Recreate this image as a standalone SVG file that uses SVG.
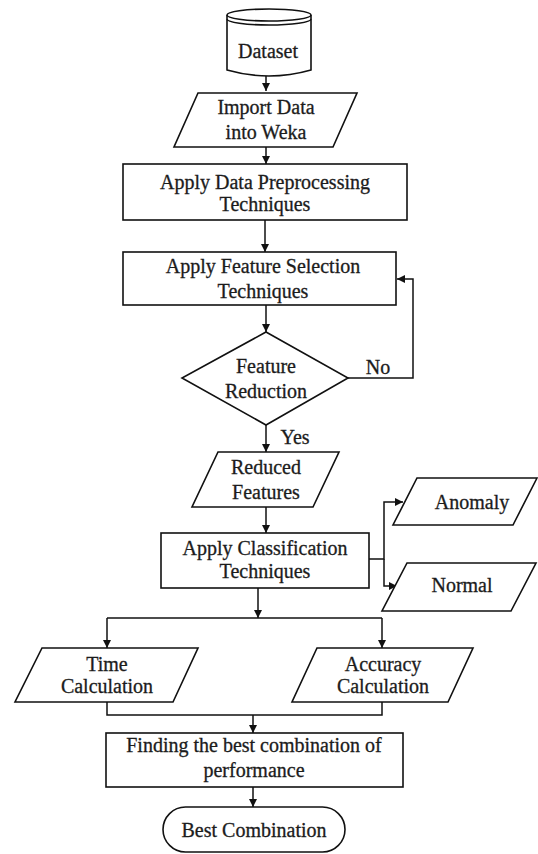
<svg xmlns="http://www.w3.org/2000/svg" width="538" height="854" viewBox="0 0 538 854">
  <defs>
    <marker id="arrow" viewBox="0 0 10 10" refX="10" refY="5" markerWidth="8" markerHeight="8" markerUnits="userSpaceOnUse" orient="auto">
      <path d="M0,0 L10,5 L0,10 z" fill="#111"/>
    </marker>
    <style>
      .shape { fill: #fff; stroke: #111; stroke-width: 1.6; }
      .line { fill: none; stroke: #111; stroke-width: 1.5; }
      .arr { marker-end: url(#arrow); }
      .lbl { font-size: 20px; fill: #1c1c1c; stroke: #1c1c1c; stroke-width: 0.3; text-anchor: middle; }
    </style>
  </defs>
  <rect width="538" height="854" fill="#fff"/>

  <g font-family="'Liberation Serif', 'DejaVu Serif', serif">
  <!-- connectors -->
  <g id="connectors">
    <path class="line arr" d="M266,76 V91"/>
    <path class="line arr" d="M266,147 V164"/>
    <path class="line arr" d="M265,220 V252"/>
    <path class="line arr" d="M266,305 V332"/>
    <path class="line arr" d="M348,378 H413 V279 H397"/>
    <path class="line arr" d="M266,425 V452"/>
    <path class="line arr" d="M266,507 V533"/>
    <path class="line arr" d="M369,559 H384 V502 H403"/>
    <path class="line arr" d="M384,559 V586 H397"/>
    <path class="line arr" d="M258,588 V618"/>
    <path class="line" d="M107,618 H382"/>
    <path class="line arr" d="M107,618 V648"/>
    <path class="line arr" d="M382,618 V648"/>
    <path class="line" d="M107,702 V715 H382 V702"/>
    <path class="line arr" d="M253,715 V733"/>
    <path class="line arr" d="M253,787 V807"/>
    <text class="lbl" x="378" y="374">No</text>
    <text class="lbl" x="295" y="444">Yes</text>
  </g>

  <g id="dataset">
    <path class="shape" d="M227,15 A42,6 0 0 1 311,15 V70 Q269,82 227,70 Z"/>
    <path class="line" d="M227,15 A42,6 0 0 0 311,15"/>
    <path class="line" d="M227,19 A42,6 0 0 0 311,19"/>
    <text class="lbl" x="268" y="58">Dataset</text>
  </g>

  <g id="import">
    <polygon class="shape" points="198,93 357,93 333,147 174,147"/>
    <text class="lbl" x="266" y="114">Import Data</text>
    <text class="lbl" x="266" y="139">into Weka</text>
  </g>

  <g id="preprocess">
    <rect class="shape" x="123" y="164" width="284" height="56"/>
    <text class="lbl" x="265" y="189">Apply Data Preprocessing</text>
    <text class="lbl" x="265" y="211">Techniques</text>
  </g>

  <g id="featsel">
    <rect class="shape" x="123" y="252" width="273" height="53"/>
    <text class="lbl" x="263" y="273">Apply Feature Selection</text>
    <text class="lbl" x="263" y="298">Techniques</text>
  </g>

  <g id="decision">
    <polygon class="shape" points="266,332 348,378 266,425 182,378"/>
    <text class="lbl" x="266" y="373">Feature</text>
    <text class="lbl" x="266" y="398">Reduction</text>
  </g>

  <g id="reduced">
    <polygon class="shape" points="218,452 339,452 313,507 192,507"/>
    <text class="lbl" x="266" y="474">Reduced</text>
    <text class="lbl" x="266" y="499">Features</text>
  </g>

  <g id="classify">
    <rect class="shape" x="161" y="533" width="208" height="55"/>
    <text class="lbl" x="265" y="555">Apply Classification</text>
    <text class="lbl" x="265" y="578">Techniques</text>
  </g>

  <g id="anomaly">
    <polygon class="shape" points="417,478 537,478 513,525 393,525"/>
    <text class="lbl" x="472" y="509">Anomaly</text>
  </g>

  <g id="normal">
    <polygon class="shape" points="407,563 536,563 511,611 382,611"/>
    <text class="lbl" x="462" y="592">Normal</text>
  </g>

  <g id="time">
    <polygon class="shape" points="42,648 198,648 173,702 15,702"/>
    <text class="lbl" x="107" y="671">Time</text>
    <text class="lbl" x="107" y="693">Calculation</text>
  </g>

  <g id="accuracy">
    <polygon class="shape" points="317,648 473,648 448,702 292,702"/>
    <text class="lbl" x="383" y="671">Accuracy</text>
    <text class="lbl" x="383" y="693">Calculation</text>
  </g>

  <g id="finding">
    <rect class="shape" x="106" y="733" width="297" height="54"/>
    <text class="lbl" x="254" y="752">Finding the best combination of</text>
    <text class="lbl" x="254" y="777">performance</text>
  </g>

  <g id="best">
    <rect class="shape" x="163" y="807" width="182" height="45" rx="22.5"/>
    <text class="lbl" x="254" y="837">Best Combination</text>
  </g>
  </g>
</svg>
